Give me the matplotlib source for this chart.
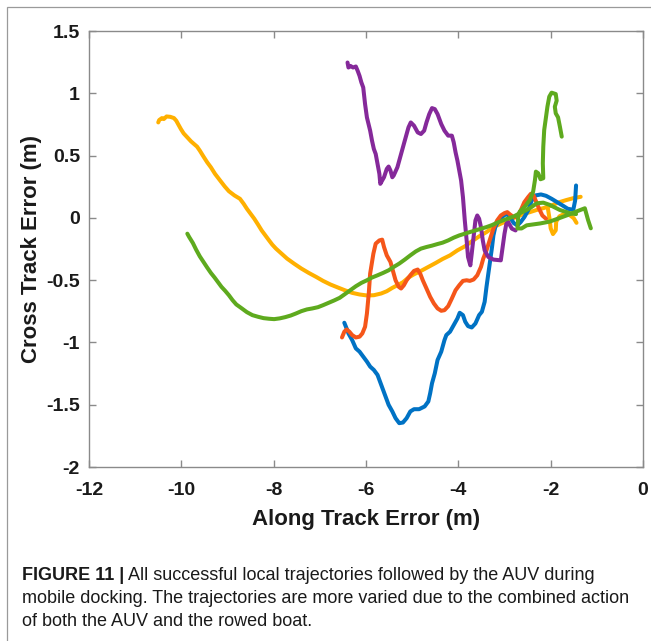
import matplotlib
matplotlib.use("Agg")
import matplotlib.pyplot as plt
from matplotlib.patches import Rectangle

plt.rcParams['font.family'] = ['Liberation Sans', 'DejaVu Sans']
plt.rcParams['axes.unicode_minus'] = False

# ---------------- data ----------------
purple_x = [-6.40, -6.38, -6.34, -6.28, -6.22, -6.18, -6.14, -6.10, -6.06, -6.02, -5.98, -5.91, -5.87,
            -5.83, -5.79, -5.75, -5.71, -5.69, -5.65, -5.61, -5.55, -5.51, -5.47, -5.43, -5.40, -5.32,
            -5.24, -5.16, -5.08, -5.03, -4.96, -4.88, -4.81, -4.74, -4.69, -4.63, -4.57, -4.51, -4.45,
            -4.37, -4.30, -4.22, -4.14, -4.10, -4.06, -4.02, -3.98, -3.94, -3.90, -3.86, -3.82, -3.79,
            -3.74, -3.71, -3.67, -3.63, -3.59, -3.55, -3.51, -3.47, -3.43, -3.35, -3.24, -3.08, -3.04,
            -3.00, -2.96, -2.92, -2.88, -2.84, -2.76]
purple_y = [1.247, 1.207, 1.220, 1.207, 1.215, 1.18, 1.14, 1.087, 1.047, 0.913, 0.806, 0.70, 0.62,
            0.553, 0.513, 0.433, 0.353, 0.273, 0.30, 0.326, 0.393, 0.412, 0.38, 0.326, 0.34, 0.406,
            0.513, 0.62, 0.726, 0.766, 0.74, 0.686, 0.673, 0.70, 0.766, 0.833, 0.881, 0.873, 0.833,
            0.753, 0.70, 0.66, 0.66, 0.606, 0.526, 0.46, 0.38, 0.30, 0.166, -0.021, -0.181, -0.314,
            -0.381, -0.287, -0.154, -0.021, 0.019, -0.007, -0.074, -0.181, -0.261, -0.314, -0.335,
            -0.341, -0.234, -0.127, -0.047, -0.034, -0.061, -0.087, -0.101]

blue_x = [-6.47, -6.42, -6.38, -6.30, -6.22, -6.14, -6.06, -5.98, -5.91, -5.83, -5.75, -5.67, -5.59,
          -5.51, -5.43, -5.36, -5.28, -5.20, -5.12, -5.04, -4.96, -4.85, -4.73, -4.65, -4.61, -4.57,
          -4.51, -4.45, -4.37, -4.30, -4.26, -4.18, -4.10, -4.02, -3.97, -3.90, -3.85, -3.79, -3.71,
          -3.63, -3.55, -3.49, -3.43, -3.39, -3.35, -3.31, -3.27, -3.24, -3.20, -3.12, -3.04, -2.96,
          -2.88, -2.80, -2.72, -2.65, -2.57, -2.49, -2.41, -2.33, -2.21, -2.10, -1.98, -1.86, -1.74,
          -1.63, -1.51, -1.47, -1.45]
blue_y = [-0.842, -0.888, -0.928, -0.981, -1.048, -1.074, -1.114, -1.154, -1.194, -1.221, -1.261,
          -1.341, -1.421, -1.501, -1.554, -1.608, -1.648, -1.643, -1.608, -1.554, -1.536, -1.536,
          -1.514, -1.474, -1.408, -1.328, -1.248, -1.141, -1.074, -0.981, -0.941, -0.914, -0.861,
          -0.808, -0.762, -0.781, -0.834, -0.869, -0.880, -0.848, -0.781, -0.754, -0.674, -0.554,
          -0.447, -0.341, -0.234, -0.141, -0.074, -0.015, 0.011, 0.033, 0.006, -0.042, -0.061,
          -0.034, 0.006, 0.059, 0.139, 0.180, 0.188, 0.177, 0.153, 0.126, 0.099, 0.073, 0.065,
          0.139, 0.260]

red_x = [-6.52, -6.47, -6.42, -6.36, -6.30, -6.22, -6.14, -6.08, -6.02, -5.98, -5.94, -5.91, -5.84,
         -5.79, -5.71, -5.65, -5.61, -5.55, -5.47, -5.42, -5.36, -5.29, -5.24, -5.18, -5.12, -5.04,
         -4.96, -4.88, -4.82, -4.77, -4.69, -4.61, -4.53, -4.45, -4.37, -4.30, -4.22, -4.14, -4.06,
         -3.98, -3.90, -3.82, -3.75, -3.67, -3.59, -3.51, -3.46, -3.39, -3.31, -3.24, -3.16, -3.08,
         -3.00, -2.94, -2.88, -2.80, -2.72, -2.65, -2.57, -2.49, -2.43, -2.37, -2.31, -2.25, -2.18,
         -2.10]
red_y = [-0.960, -0.914, -0.896, -0.914, -0.941, -0.960, -0.954, -0.928, -0.874, -0.768, -0.607,
         -0.447, -0.287, -0.207, -0.181, -0.175, -0.234, -0.301, -0.354, -0.421, -0.501, -0.554,
         -0.567, -0.541, -0.501, -0.461, -0.426, -0.415, -0.453, -0.501, -0.567, -0.634, -0.687,
         -0.727, -0.746, -0.741, -0.709, -0.647, -0.581, -0.541, -0.506, -0.501, -0.506, -0.495,
         -0.461, -0.394, -0.327, -0.261, -0.167, -0.087, -0.021, 0.019, 0.038, 0.046, 0.027, 0.006,
         0.006, 0.059, 0.126, 0.166, 0.193, 0.180, 0.126, 0.073, 0.019, -0.007]

yellow_x = [-10.50, -10.48, -10.42, -10.38, -10.32, -10.24, -10.16, -10.11, -10.07, -10.01, -9.95,
            -9.87, -9.79, -9.71, -9.66, -9.60, -9.52, -9.44, -9.36, -9.27, -9.16, -9.06, -8.97, -8.85,
            -8.73, -8.65, -8.58, -8.50, -8.42, -8.34, -8.26, -8.18, -8.10, -8.03, -7.95, -7.83, -7.71,
            -7.56, -7.40, -7.24, -7.08, -6.93, -6.77, -6.61, -6.46, -6.30, -6.14, -5.98, -5.83, -5.67,
            -5.55, -5.43, -5.32, -5.20, -5.08, -4.96, -4.81, -4.65, -4.49, -4.34, -4.18, -4.02, -3.86,
            -3.71, -3.55, -3.39, -3.24, -3.08, -2.92, -2.76, -2.61, -2.45, -2.29, -2.14, -1.98, -1.82,
            -1.66, -1.51, -1.35]
yellow_y = [0.766, 0.785, 0.801, 0.793, 0.814, 0.811, 0.801, 0.78, 0.753, 0.713, 0.678, 0.646, 0.614,
            0.588, 0.572, 0.54, 0.492, 0.446, 0.406, 0.353, 0.30, 0.252, 0.214, 0.18, 0.153, 0.113,
            0.073, 0.033, -0.007, -0.053, -0.101, -0.141, -0.181, -0.215, -0.247, -0.287, -0.327,
            -0.367, -0.407, -0.442, -0.474, -0.506, -0.535, -0.559, -0.581, -0.602, -0.615, -0.623,
            -0.621, -0.607, -0.589, -0.562, -0.541, -0.517, -0.479, -0.453, -0.426, -0.394, -0.362,
            -0.330, -0.301, -0.261, -0.229, -0.189, -0.149, -0.114, -0.074, -0.047, -0.021, 0.006,
            0.027, 0.046, 0.065, 0.080, 0.100, 0.125, 0.143, 0.158, 0.169]
yellow_tail_x = [-2.06, -2.02, -2.00, -1.95, -1.89, -1.88, -1.81, -1.69, -1.58, -1.50, -1.44]
yellow_tail_y = [0.075, -0.017, -0.084, -0.13, -0.10, -0.03, 0.012, 0.035, 0.020, -0.003, -0.04]

green1_x = [-9.87, -9.83, -9.75, -9.68, -9.60, -9.52, -9.44, -9.36, -9.28, -9.20, -9.13, -9.05, -8.97,
            -8.89, -8.81, -8.69, -8.58, -8.46, -8.34, -8.22, -8.10, -7.99, -7.87, -7.75, -7.63, -7.52,
            -7.40, -7.28, -7.16, -7.04, -6.93, -6.81, -6.69, -6.57, -6.46, -6.34, -6.22, -6.10, -5.98,
            -5.87, -5.75, -5.63, -5.51, -5.40, -5.28, -5.16, -5.04, -4.92, -4.81, -4.69, -4.57, -4.45,
            -4.34, -4.22, -4.10, -3.98, -3.86, -3.75, -3.63, -3.51, -3.39, -3.27, -3.16, -3.04, -2.92,
            -2.80, -2.69, -2.57, -2.45, -2.30, -2.16, -2.02, -1.80, -1.58, -1.45]
green1_y = [-0.127, -0.154, -0.202, -0.255, -0.309, -0.354, -0.399, -0.442, -0.479, -0.519, -0.554,
            -0.586, -0.621, -0.661, -0.695, -0.727, -0.757, -0.781, -0.794, -0.805, -0.810, -0.813,
            -0.807, -0.797, -0.784, -0.768, -0.749, -0.735, -0.727, -0.717, -0.701, -0.682, -0.663,
            -0.642, -0.613, -0.581, -0.549, -0.522, -0.501, -0.479, -0.461, -0.442, -0.421, -0.394,
            -0.367, -0.335, -0.301, -0.269, -0.247, -0.234, -0.223, -0.210, -0.199, -0.181, -0.159,
            -0.141, -0.127, -0.114, -0.101, -0.087, -0.074, -0.058, -0.039, -0.021, -0.005, 0.011,
            0.033, 0.054, 0.078, 0.117, 0.122, 0.104, 0.063, 0.037, 0.030]

green2_x = [-1.76, -1.80, -1.84, -1.89, -1.91, -1.87, -1.89, -1.98, -2.03, -2.07, -2.10, -2.14, -2.16,
            -2.17, -2.16, -2.22, -2.27, -2.32, -2.34, -2.38, -2.45, -2.56, -2.67, -2.70, -2.72, -2.63,
            -2.52, -2.23, -2.02, -1.87, -1.65, -1.45, -1.26, -1.19, -1.13]
green2_y = [0.652, 0.732, 0.807, 0.839, 0.892, 0.941, 0.994, 1.005, 0.973, 0.893, 0.812, 0.705, 0.571,
            0.438, 0.318, 0.310, 0.358, 0.371, 0.304, 0.210, 0.144, 0.090, 0.050, 0.023, -0.085, -0.085,
            -0.06, -0.045, -0.03, -0.01, 0.02, 0.05, 0.077, -0.017, -0.084]

x_ticks = [-12, -10, -8, -6, -4, -2, 0]
x_tick_labels = ['-12', '-10', '-8', '-6', '-4', '-2', '0']
y_ticks = [-2, -1.5, -1, -0.5, 0, 0.5, 1, 1.5]
y_tick_labels = ['-2', '-1.5', '-1', '-0.5', '0', '0.5', '1', '1.5']

caption_bold = "FIGURE 11 |"
caption_lines = [" All successful local trajectories followed by the AUV during",
                 "mobile docking. The trajectories are more varied due to the combined action",
                 "of both the AUV and the rowed boat."]

# ---------------- figure ----------------
W, H = 651, 641
fig = plt.figure(figsize=(W / 100, H / 100), dpi=100)

# outer frame
fig.add_artist(Rectangle((7 / W, -0.05), 1.2, (H - 7) / H + 0.05, transform=fig.transFigure,
                         fill=False, edgecolor='#9a9a9a', linewidth=0.9))

ax = fig.add_axes([89 / W, 1 - 467 / H, (643 - 89) / W, (467 - 31) / H])

lw = 2.9
style = dict(lw=lw, solid_capstyle='round', solid_joinstyle='round')
ax.plot(yellow_x, yellow_y, color='#FFB000', **style)
ax.plot(yellow_tail_x, yellow_tail_y, color='#FFB000', **style)
ax.plot(blue_x, blue_y, color='#0072C4', **style)
ax.plot(red_x, red_y, color='#F5561A', **style)
ax.plot(purple_x, purple_y, color='#85299A', **style)
ax.plot(green1_x, green1_y, color='#5EAA1E', **style)
ax.plot(green2_x, green2_y, color='#5EAA1E', **style)

ax.set_xlim(-12, 0)
ax.set_ylim(-2, 1.5)
ax.set_xticks(x_ticks)
ax.set_xticklabels(x_tick_labels)
ax.set_yticks(y_ticks)
ax.set_yticklabels(y_tick_labels)
for s in ax.spines.values():
    s.set_color('#8a8a8a')
    s.set_linewidth(1.0)
ax.tick_params(direction='in', length=5, width=1.0, color='#8a8a8a', top=True, right=True,
               labelsize=14, labelcolor='#1a1a1a')
ax.tick_params(axis='x', pad=11)
ax.tick_params(axis='y', pad=6.5)
for lab in ax.get_xticklabels() + ax.get_yticklabels():
    lab.set_fontweight('bold')

ax.set_xlabel('Along Track Error (m)', fontsize=16, fontweight='bold', color='#1a1a1a', labelpad=7)
ax.set_ylabel('Cross Track Error (m)', fontsize=16, fontweight='bold', color='#1a1a1a', labelpad=3)

# caption
cap_fs = 13
x0 = 22 / W
t = fig.text(x0, 1 - 580 / H, caption_bold, fontsize=cap_fs, fontweight='bold', color='#1a1a1a',
             va='baseline', ha='left')
fig.canvas.draw()
bb = t.get_window_extent()
fig.text(bb.x1 / W, 1 - 580 / H, caption_lines[0], fontsize=cap_fs, color='#1a1a1a',
         va='baseline', ha='left')
fig.text(x0, 1 - 603 / H, caption_lines[1], fontsize=cap_fs, color='#1a1a1a', va='baseline', ha='left')
fig.text(x0, 1 - 626 / H, caption_lines[2], fontsize=cap_fs, color='#1a1a1a', va='baseline', ha='left')

fig.savefig('out.png', dpi=100)
